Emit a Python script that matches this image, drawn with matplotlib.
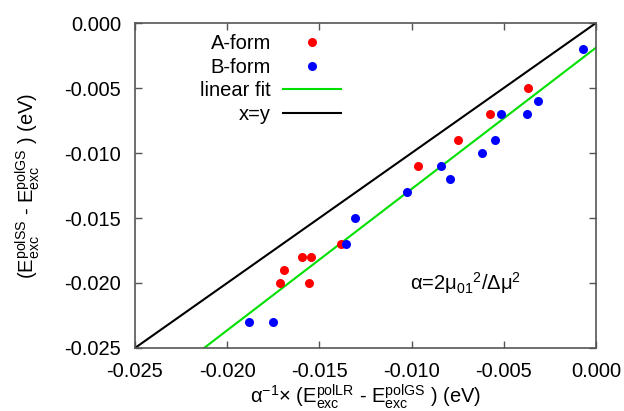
import matplotlib.pyplot as plt
import numpy as np

# A-form points
a_x = [-0.00369, -0.00575, -0.00748, -0.00965, -0.01383, -0.01594, -0.01546,
       -0.01692, -0.01714, -0.01556]
a_y = [-0.005, -0.007, -0.009, -0.011, -0.017, -0.018, -0.018,
       -0.019, -0.020, -0.020]

# B-form points
b_x = [-0.00070, -0.00315, -0.00374, -0.00515, -0.00548, -0.00618, -0.00841,
       -0.00792, -0.01025, -0.01307, -0.01356, -0.01882, -0.01752]
b_y = [-0.002, -0.006, -0.007, -0.007, -0.009, -0.010, -0.011,
       -0.012, -0.013, -0.015, -0.017, -0.023, -0.023]

# linear fit parameters
fit_slope = 1.087
fit_intercept = -0.0019

x_ticks = [-0.025, -0.020, -0.015, -0.010, -0.005, 0.000]
y_ticks = [-0.025, -0.020, -0.015, -0.010, -0.005, 0.000]


def main():
    plt.rcParams['font.family'] = ['Liberation Sans', 'DejaVu Sans']
    plt.rcParams['mathtext.default'] = 'regular'
    plt.rcParams['font.size'] = 14.5

    fig = plt.figure(figsize=(6.24, 4.11), dpi=100)
    ax = fig.add_axes([0.2163, 0.1533, 0.7387, 0.7907])

    xx = np.linspace(-0.025, 0.0, 100)
    ax.plot(a_x, a_y, 'o', color='#ff0000', ms=6.5, mec='none', label='A-form', zorder=3)
    ax.plot(b_x, b_y, 'o', color='#0000ff', ms=6.5, mec='none', label='B-form', zorder=3)
    ax.plot(xx, fit_slope * xx + fit_intercept, color='#00e000', lw=1.5, label='linear fit')
    ax.plot(xx, xx, color='black', lw=1.5, label='x=y')

    ax.set_xlim(-0.025, 0.0)
    ax.set_ylim(-0.025, 0.0)
    ax.set_xticks(x_ticks)
    ax.set_yticks(y_ticks)
    ax.set_xticklabels(['%.3f' % t for t in x_ticks])
    ax.set_yticklabels(['%.3f' % t for t in y_ticks])
    ax.tick_params(direction='in', top=True, right=True, length=5, width=1,
                   color='#555555', pad=10)
    for s in ax.spines.values():
        s.set_color('#555555')
        s.set_linewidth(1.2)

    ax.set_xlabel(r'$\alpha^{-1}$$\times$ (E$_{exc}^{polLR}$ - E$_{exc}^{polGS}$ ) (eV)', labelpad=1)
    ax.set_ylabel(r'(E$_{exc}^{polSS}$ - E$_{exc}^{polGS}$ ) (eV)', labelpad=16)

    ax.text(-0.00705, -0.020, r'$\alpha$=2$\mu_{01}$$^2$/$\Delta\mu^2$',
            ha='center', va='center')

    ax.legend(loc='upper left', bbox_to_anchor=(0.124, 0.99), frameon=False,
              markerfirst=False, handlelength=2.9, handletextpad=0.6,
              labelspacing=0.22, borderaxespad=0)

    fig.savefig('out.png', dpi=100)


if __name__ == '__main__':
    main()
